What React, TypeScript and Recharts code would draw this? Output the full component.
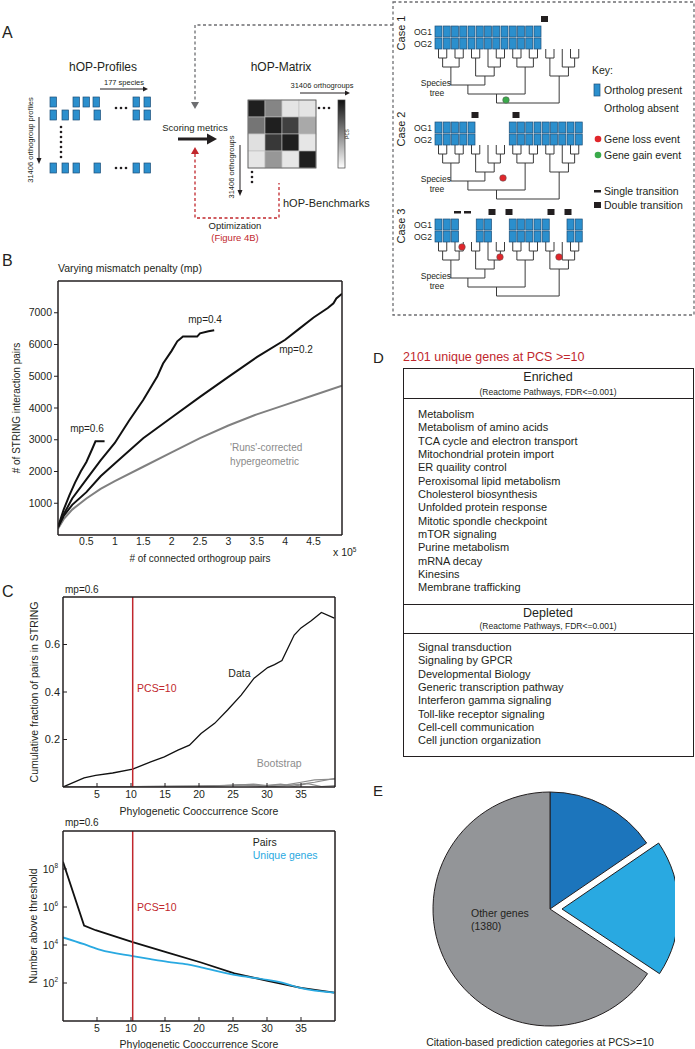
import React from 'react';
import { LineChart, Line, XAxis, YAxis, ReferenceLine, ReferenceDot, Label, PieChart, Pie, Cell } from 'recharts';

const FONT = '"Liberation Sans", Arial, Helvetica, sans-serif';
const INK = '#231f20';
const RED = '#c1272d';
const BLUE = '#2b8fcd';
const CYAN = '#29a9e1';

// ---- panel B: STRING pairs vs connected orthogroup pairs (x in 1e5)
const mp06 = [
  { x: 0, y: 250 }, { x: 0.1, y: 800 }, { x: 0.2, y: 1250 }, { x: 0.3, y: 1650 }, { x: 0.4, y: 2000 },
  { x: 0.5, y: 2300 }, { x: 0.6, y: 2700 }, { x: 0.66, y: 2950 }, { x: 0.82, y: 2950 },
];
const mp04 = [
  { x: 0, y: 250 }, { x: 0.1, y: 650 }, { x: 0.25, y: 1150 }, { x: 0.5, y: 1750 }, { x: 0.75, y: 2350 },
  { x: 1, y: 2900 }, { x: 1.25, y: 3600 }, { x: 1.5, y: 4250 }, { x: 1.75, y: 5000 }, { x: 1.85, y: 5400 },
  { x: 2, y: 5800 }, { x: 2.1, y: 6100 }, { x: 2.2, y: 6250 }, { x: 2.45, y: 6250 }, { x: 2.5, y: 6350 },
  { x: 2.65, y: 6420 }, { x: 2.75, y: 6450 },
];
const mp02 = [
  { x: 0, y: 250 }, { x: 0.1, y: 600 }, { x: 0.25, y: 950 }, { x: 0.5, y: 1350 }, { x: 0.75, y: 1850 },
  { x: 1, y: 2250 }, { x: 1.5, y: 3050 }, { x: 2, y: 3700 }, { x: 2.5, y: 4350 }, { x: 3, y: 4980 },
  { x: 3.5, y: 5600 }, { x: 4, y: 6150 }, { x: 4.25, y: 6500 }, { x: 4.5, y: 6850 }, { x: 4.75, y: 7150 },
  { x: 4.85, y: 7300 }, { x: 4.9, y: 7450 }, { x: 5, y: 7600 },
];
const hyperGeo = [
  { x: 0, y: 200 }, { x: 0.1, y: 500 }, { x: 0.25, y: 800 }, { x: 0.5, y: 1150 }, { x: 0.75, y: 1450 },
  { x: 1, y: 1700 }, { x: 1.5, y: 2150 }, { x: 2, y: 2600 }, { x: 2.5, y: 3050 }, { x: 3, y: 3450 },
  { x: 3.5, y: 3800 }, { x: 4, y: 4100 }, { x: 4.5, y: 4400 }, { x: 5, y: 4700 },
];
const bXTicks = [0.5, 1, 1.5, 2, 2.5, 3, 3.5, 4, 4.5];
const bYTicks = [1000, 2000, 3000, 4000, 5000, 6000, 7000];

// ---- panel C: cumulative fraction and counts vs PCS
const cumData = [
  { x: 0, y: 0 }, { x: 3.1, y: 0.038 }, { x: 4.8, y: 0.049 }, { x: 7.3, y: 0.059 }, { x: 10.25, y: 0.075 },
  { x: 12.9, y: 0.106 }, { x: 14.9, y: 0.127 }, { x: 16.9, y: 0.155 }, { x: 18.6, y: 0.176 }, { x: 20.3, y: 0.225 },
  { x: 22.3, y: 0.268 }, { x: 24.2, y: 0.324 }, { x: 26.2, y: 0.387 }, { x: 28.1, y: 0.458 }, { x: 30.1, y: 0.503 },
  { x: 31.1, y: 0.515 }, { x: 32.2, y: 0.532 }, { x: 34, y: 0.64 }, { x: 35, y: 0.67 }, { x: 36.5, y: 0.7 },
  { x: 38, y: 0.735 }, { x: 39.9, y: 0.711 },
];
const boot1 = [
  { x: 0, y: 0 }, { x: 10, y: 0.002 }, { x: 20, y: 0.005 }, { x: 25, y: 0.007 }, { x: 28, y: 0.012 },
  { x: 30, y: 0.006 }, { x: 33, y: 0.01 }, { x: 35, y: 0.02 }, { x: 37, y: 0.03 }, { x: 40, y: 0.033 },
];
const boot2 = [
  { x: 0, y: 0 }, { x: 20, y: 0.003 }, { x: 26, y: 0.009 }, { x: 29, y: 0.004 }, { x: 32, y: 0.012 },
  { x: 34, y: 0.004 }, { x: 36, y: 0.014 }, { x: 38, y: 0.002 }, { x: 40, y: 0.006 },
];
const boot3 = [
  { x: 0, y: 0 }, { x: 22, y: 0.004 }, { x: 27, y: 0.01 }, { x: 31, y: 0.002 }, { x: 35, y: 0.012 },
  { x: 37, y: 0.02 }, { x: 40, y: 0.036 },
];
const pairsAbove = [
  { x: 0, y: 2.4e8 }, { x: 3.1, y: 1.05e5 }, { x: 4.8, y: 6e4 }, { x: 10.25, y: 1.4e4 }, { x: 15.4, y: 4e3 },
  { x: 20.3, y: 1.2e3 }, { x: 25.2, y: 320 }, { x: 30.1, y: 130 }, { x: 35, y: 55 }, { x: 39.9, y: 31 },
];
const genesAbove = [
  { x: 0, y: 2.5e4 }, { x: 3.1, y: 1.1e4 }, { x: 5.5, y: 5.5e3 }, { x: 10.25, y: 2.6e3 }, { x: 12.9, y: 1.8e3 },
  { x: 15.4, y: 1.3e3 }, { x: 18.3, y: 960 }, { x: 20.3, y: 670 }, { x: 25.2, y: 265 }, { x: 30.1, y: 145 },
  { x: 32.6, y: 96 }, { x: 35, y: 53 }, { x: 39.9, y: 31 },
];
const pcsTicks = [5, 10, 15, 20, 25, 30, 35];
const cumTicks = [0.2, 0.4, 0.6];
const logTicks = [1e2, 1e4, 1e6, 1e8];
const pcsCut = 10.25;

// ---- panel D
const enriched = [
  'Metabolism', 'Metabolism of amino acids', 'TCA cycle and electron transport', 'Mitochondrial protein import',
  'ER quaility control', 'Peroxisomal lipid metabolism', 'Cholesterol biosynthesis', 'Unfolded protein response',
  'Mitotic spondle checkpoint', 'mTOR signaling', 'Purine metabolism', 'mRNA decay', 'Kinesins', 'Membrane trafficking',
];
const depleted = [
  'Signal transduction', 'Signaling by GPCR', 'Developmental Biology', 'Generic transcription pathway',
  'Interferon gamma signaling', 'Toll-like receptor signaling', 'Cell-cell communication', 'Cell junction organization',
];

// ---- panel E
const citeCats = [
  { name: 'dark', value: 325, fill: '#1c75bc' },
  { name: 'light', value: 396, fill: '#29a9e1' },
  { name: 'Other genes', value: 1380, fill: '#939598' },
];

// ---- panel A schematic
type TreeNode = number | TreeNode[];
const speciesTree: TreeNode = [[[[[0, 1], [2, 3]], [[4, 5], [6, [7, 8]]]], [[9, 10], [11, 12]]], [[13, 14], [15, [16, 17]]]];
const leafX = (i: number) => 438.5 + i * 8.25;
const range = (a: number, b: number) => Array.from({ length: b - a + 1 }, (_, i) => a + i);
const cases = [
  { label: 'Case 1', top: 26, present: range(0, 12), singles: [] as number[], doubles: [544.5], dots: [{ x: 506, y: 100, c: '#3aaa4a' }] },
  { label: 'Case 2', top: 122, present: [...range(0, 4), ...range(9, 17)], singles: [], doubles: [475, 516], dots: [{ x: 503, y: 178, c: '#e0262b' }] },
  { label: 'Case 3', top: 219, present: [0, 1, 2, 5, 6, 9, 10, 11, 12, 13, 16, 17], singles: [457.5, 467.5], doubles: [492, 509, 551, 568],
    dots: [{ x: 462, y: 247, c: '#e0262b' }, { x: 500, y: 257, c: '#e0262b' }, { x: 559, y: 257, c: '#e0262b' }] },
];
const matrixShades = [
  ['#1f1f1f', '#858585', '#e4e4e4', '#e4e4e4'],
  ['#757575', '#1f1f1f', '#404040', '#a9a9a9'],
  ['#e0e0e0', '#383838', '#1f1f1f', '#e6e6e6'],
  ['#e6e6e6', '#979797', '#e6e6e6', '#1f1f1f'],
];
const profileRows = [
  { y: 97, xs: [50, 73, 83, 93, 133, 144] },
  { y: 110, xs: [50, 62, 73, 94, 133, 144] },
  { y: 163, xs: [50, 62, 73, 94, 133, 144] },
];

function treeLines(node: TreeNode, top: number, step: number, out: React.ReactNode[]): { x: number; h: number } {
  if (typeof node === 'number') return { x: leafX(node), h: 0 };
  const kids = node.map((n) => treeLines(n, top, step, out));
  const h = 1 + Math.max(...kids.map((k) => k.h));
  const y = top + h * step;
  kids.forEach((k) => out.push(<line key={out.length} x1={k.x} x2={k.x} y1={top + k.h * step} y2={y} />));
  const xs = kids.map((k) => k.x);
  out.push(<line key={out.length} x1={Math.min(...xs)} x2={Math.max(...xs)} y1={y} y2={y} />);
  return { x: (Math.min(...xs) + Math.max(...xs)) / 2, h };
}

const Txt = ({ x, y, size = 10.5, color = INK, anchor = 'start', children, weight = 400 }: any) => (
  <div
    style={{
      position: 'absolute', left: x, top: y, fontSize: size, color, whiteSpace: 'nowrap', lineHeight: 1, fontWeight: weight,
      transform: `translate(${anchor === 'middle' ? '-50%' : anchor === 'end' ? '-100%' : '0'}, -50%)`,
    }}
  >
    {children}
  </div>
);

const Dots = ({ x, y, vertical = false, n = 3, gap = 5 }: any) => (
  <g fill={INK}>
    {range(0, n - 1).map((i) => (
      <circle key={i} cx={vertical ? x : x + i * gap} cy={vertical ? y + i * gap : y} r={1.3} />
    ))}
  </g>
);

function PanelA() {
  const f = { fontFamily: FONT, fill: INK };
  return (
    <svg width={695} height={320} style={{ position: 'absolute', left: 0, top: 0 }}>
      <defs>
        <linearGradient id="pcsbar" x1="0" y1="0" x2="0" y2="1">
          <stop offset="0" stopColor="#111" />
          <stop offset="1" stopColor="#fff" />
        </linearGradient>
      </defs>
      <text x={2} y={38} fontSize={16} {...f}>A</text>
      {/* connectors */}
      <rect x={393} y={2} width={301} height={313} fill="none" stroke="#6d6e71" strokeWidth={1.3} strokeDasharray="3 2.5" />
      <path d="M393 25 H195 V102" fill="none" stroke="#6d6e71" strokeWidth={1.3} strokeDasharray="3 2.5" />
      <polygon points="191,102 199,102 195,109" fill="#6d6e71" />
      <path d="M195 154 V218 H279 V183" fill="none" stroke={RED} strokeWidth={1.3} strokeDasharray="3 2.5" />
      <polygon points="191,154 199,154 195,147" fill={RED} />
      <line x1={178} x2={209} y1={139} y2={139} stroke={INK} strokeWidth={3} />
      <polygon points="207,133.5 217,139 207,144.5" fill={INK} />
      <text x={195} y={131} textAnchor="middle" fontSize={9.5} {...f}>Scoring metrics</text>
      <text x={235} y={229} textAnchor="middle" fontSize={9.5} {...f}>Optimization</text>
      <text x={235} y={241} textAnchor="middle" fontSize={9.5} fontFamily={FONT} fill={RED}>(Figure 4B)</text>

      {/* profiles */}
      <text x={103} y={71} textAnchor="middle" fontSize={12} {...f}>hOP-Profiles</text>
      <text x={124} y={85} textAnchor="middle" fontSize={7.5} {...f}>177 species</text>
      <line x1={100} x2={144} y1={89} y2={89} stroke={INK} strokeWidth={1} />
      <polygon points="143,86.5 148,89 143,91.5" fill={INK} />
      {profileRows.map((r) => r.xs.map((x) => (
        <rect key={`${r.y}-${x}`} x={x} y={r.y} width={6.5} height={10} fill={BLUE} stroke="#1d4f78" strokeWidth={0.7} />
      )))}
      <Dots x={116} y={108} />
      <Dots x={116} y={168} />
      <Dots x={61} y={127} vertical n={7} gap={5} />
      <line x1={39} x2={39} y1={117} y2={159} stroke={INK} strokeWidth={1} />
      <polygon points="36.5,158 39,164 41.5,158" fill={INK} />
      <text transform="translate(33,140) rotate(-90)" textAnchor="middle" fontSize={7.5} {...f}>31406 orthogroup profiles</text>

      {/* matrix */}
      <text x={281} y={71} textAnchor="middle" fontSize={12} {...f}>hOP-Matrix</text>
      <text x={322} y={88} textAnchor="middle" fontSize={7.5} {...f}>31406 orthogroups</text>
      <line x1={300} x2={346} y1={93} y2={93} stroke={INK} strokeWidth={1} />
      <polygon points="345,90.5 350,93 345,95.5" fill={INK} />
      {matrixShades.map((row, r) => row.map((c, k) => (
        <rect key={`${r}-${k}`} x={248 + k * 17} y={100 + r * 17} width={17} height={17} fill={c} stroke="#bdbdbd" strokeWidth={0.6} />
      )))}
      <rect x={248} y={100} width={68} height={68} fill="none" stroke="#555" strokeWidth={0.8} />
      <rect x={338} y={100} width={7} height={68} fill="url(#pcsbar)" stroke="#444" strokeWidth={0.7} />
      <text transform="translate(349,134) rotate(-90)" textAnchor="middle" fontSize={4.5} {...f}>PCS</text>
      <Dots x={319} y={108} n={3} gap={5} />
      <Dots x={252} y={172} vertical n={3} gap={5} />
      <line x1={240} x2={240} y1={145} y2={191} stroke={INK} strokeWidth={1} />
      <polygon points="237.5,190 240,196 242.5,190" fill={INK} />
      <text transform="translate(234,167) rotate(-90)" textAnchor="middle" fontSize={7.5} {...f}>31406 orthogroups</text>
      <text x={283} y={207} fontSize={11} {...f}>hOP-Benchmarks</text>

      {/* cases */}
      {cases.map((c) => {
        const lines: React.ReactNode[] = [];
        const leafTop = c.top + 23;
        treeLines(speciesTree, leafTop, 9, lines);
        return (
          <g key={c.label}>
            <text transform={`translate(405,${c.top + 7}) rotate(-90)`} textAnchor="middle" fontSize={11} {...f}>{c.label}</text>
            <text x={414} y={c.top + 8.5} fontSize={8.5} {...f}>OG1</text>
            <text x={414} y={c.top + 20.5} fontSize={8.5} {...f}>OG2</text>
            <text x={451} y={leafTop + 37} textAnchor="end" fontSize={8.5} {...f}>Species</text>
            <text x={437} y={leafTop + 47} textAnchor="middle" fontSize={8.5} {...f}>tree</text>
            <g stroke="#3b3b3b" strokeWidth={1}>{lines}</g>
            {c.present.map((i) => (
              <g key={i}>
                <rect x={leafX(i) - 3.5} y={c.top} width={7} height={11} fill={BLUE} stroke="#1d4f78" strokeWidth={0.7} />
                <rect x={leafX(i) - 3.5} y={c.top + 12} width={7} height={11} fill={BLUE} stroke="#1d4f78" strokeWidth={0.7} />
              </g>
            ))}
            {c.singles.map((x) => <rect key={`s${x}`} x={x - 3.5} y={c.top - 8} width={7} height={2.5} fill={INK} />)}
            {c.doubles.map((x) => <rect key={`d${x}`} x={x - 3.5} y={c.top - 10} width={7} height={6} fill={INK} />)}
            {c.dots.map((d) => <circle key={`${d.x}`} cx={d.x} cy={d.y} r={3.3} fill={d.c} stroke="#555" strokeWidth={0.5} />)}
          </g>
        );
      })}

      {/* key */}
      <text x={592} y={74} fontSize={10.5} {...f}>Key:</text>
      <rect x={594} y={84} width={6} height={12} fill={BLUE} stroke="#1d4f78" strokeWidth={0.7} />
      <text x={604} y={94} fontSize={10.5} {...f}>Ortholog present</text>
      <text x={604} y={112} fontSize={10.5} {...f}>Ortholog absent</text>
      <circle cx={598} cy={139} r={3.3} fill="#e0262b" />
      <text x={604} y={143} fontSize={10.5} {...f}>Gene loss event</text>
      <circle cx={598} cy={155} r={3.3} fill="#3aaa4a" />
      <text x={604} y={159} fontSize={10.5} {...f}>Gene gain event</text>
      <rect x={594} y={190} width={7} height={2.5} fill={INK} />
      <text x={604} y={195} fontSize={10.5} {...f}>Single transition</text>
      <rect x={594} y={202} width={7} height={6} fill={INK} />
      <text x={604} y={209} fontSize={10.5} {...f}>Double transition</text>
    </svg>
  );
}

const frame = { stroke: INK, strokeWidth: 1.5 };
const tickFont = { fontSize: 10.5, fill: INK, fontFamily: FONT };

const PowTick = (p: any) => {
  const e = Math.round(Math.log10(p.payload.value));
  return (
    <text x={p.x} y={p.y} textAnchor="end" dominantBaseline="central" fontSize={10.5} fill={INK} fontFamily={FONT}>
      10<tspan dy={-4} fontSize={6.5}>{e}</tspan>
    </text>
  );
};

function PanelB() {
  return (
    <div style={{ position: 'absolute', left: 0, top: 270 }}>
      <LineChart width={350} height={300} margin={{ top: 10, right: 7, bottom: 0, left: 0 }}>
        <XAxis xAxisId="b" type="number" dataKey="x" domain={[0, 5]} ticks={bXTicks} allowDataOverflow height={35}
          tickLine={false} tickSize={0} tickMargin={3} axisLine={frame} tick={tickFont}>
          <Label value="# of connected orthogroup pairs" position="insideBottom" offset={8} fontSize={10} fill={INK} />
        </XAxis>
        <XAxis xAxisId="t" orientation="top" type="number" dataKey="x" domain={[0, 5]} height={1} tick={false} tickLine={false} axisLine={frame} />
        <YAxis yAxisId="l" type="number" domain={[0, 8000]} ticks={bYTicks} width={58} allowDataOverflow
          tickLine={{ stroke: INK }} tickSize={4} tickMargin={2} axisLine={frame} tick={tickFont}>
          <Label value="# of STRING interaction pairs" angle={-90} position="insideLeft" offset={16} fontSize={10} fill={INK} style={{ textAnchor: 'middle' }} />
        </YAxis>
        <YAxis yAxisId="r" orientation="right" type="number" domain={[0, 8000]} width={1} tick={false} tickLine={false} axisLine={frame} />
        <Line xAxisId="b" yAxisId="l" data={hyperGeo} dataKey="y" stroke="#808080" strokeWidth={2} dot={false} isAnimationActive={false} />
        <Line xAxisId="b" yAxisId="l" data={mp02} dataKey="y" stroke="#111" strokeWidth={2} dot={false} isAnimationActive={false} />
        <Line xAxisId="b" yAxisId="l" data={mp04} dataKey="y" stroke="#111" strokeWidth={2} dot={false} isAnimationActive={false} />
        <Line xAxisId="b" yAxisId="l" data={mp06} dataKey="y" stroke="#111" strokeWidth={2} dot={false} isAnimationActive={false} />
        <ReferenceDot xAxisId="b" yAxisId="l" x={0.51} y={3370} r={0} fill="none" stroke="none" label={{ value: 'mp=0.6', position: 'center', fontSize: 10, fill: INK }} />
        <ReferenceDot xAxisId="b" yAxisId="l" x={2.59} y={6800} r={0} fill="none" stroke="none" label={{ value: 'mp=0.4', position: 'center', fontSize: 10, fill: INK }} />
        <ReferenceDot xAxisId="b" yAxisId="l" x={4.19} y={5830} r={0} fill="none" stroke="none" label={{ value: 'mp=0.2', position: 'center', fontSize: 10, fill: INK }} />
        <ReferenceDot xAxisId="b" yAxisId="l" x={3.03} y={2750} r={0} fill="none" stroke="none" label={{ value: "'Runs'-corrected", position: 'right', offset: 0, fontSize: 10, fill: '#8a8a8a' }} />
        <ReferenceDot xAxisId="b" yAxisId="l" x={3.03} y={2310} r={0} fill="none" stroke="none" label={{ value: 'hypergeometric', position: 'right', offset: 0, fontSize: 10, fill: '#8a8a8a' }} />
      </LineChart>
    </div>
  );
}

function PanelCTop() {
  return (
    <div style={{ position: 'absolute', left: 0, top: 585 }}>
      <LineChart width={340} height={232} margin={{ top: 11, right: 4, bottom: 0, left: 0 }}>
        <XAxis xAxisId="b" type="number" dataKey="x" domain={[0, 40]} ticks={pcsTicks} allowDataOverflow height={30}
          tickSize={-4} tickMargin={8} tickLine={{ stroke: INK }} axisLine={frame} tick={tickFont}>
          <Label value="Phylogenetic Cooccurrence Score" position="insideBottom" offset={2} fontSize={10.5} fill={INK} />
        </XAxis>
        <XAxis xAxisId="t" orientation="top" type="number" dataKey="x" domain={[0, 40]} ticks={pcsTicks} height={1}
          tick={false} tickSize={-4} tickLine={{ stroke: INK }} axisLine={frame} />
        <YAxis yAxisId="l" type="number" domain={[0, 0.8]} ticks={cumTicks} width={63} allowDataOverflow
          tickSize={-4} tickMargin={7} tickLine={{ stroke: INK }} axisLine={frame} tick={{ ...tickFont, fontSize: 11 }}>
          <Label value="Cumulative fraction of pairs in STRING" angle={-90} position="insideLeft" offset={34} fontSize={10.5} fill={INK} style={{ textAnchor: 'middle' }} />
        </YAxis>
        <YAxis yAxisId="r" orientation="right" type="number" domain={[0, 0.8]} ticks={cumTicks} width={1}
          tick={false} tickSize={-4} tickLine={{ stroke: INK }} axisLine={frame} />
        <Line xAxisId="b" yAxisId="l" data={boot1} dataKey="y" stroke="#8c8c8c" strokeWidth={1.2} dot={false} isAnimationActive={false} />
        <Line xAxisId="b" yAxisId="l" data={boot2} dataKey="y" stroke="#8c8c8c" strokeWidth={1.2} dot={false} isAnimationActive={false} />
        <Line xAxisId="b" yAxisId="l" data={boot3} dataKey="y" stroke="#8c8c8c" strokeWidth={1.2} dot={false} isAnimationActive={false} />
        <Line xAxisId="b" yAxisId="l" data={cumData} dataKey="y" stroke="#111" strokeWidth={1.3} dot={false} isAnimationActive={false} />
        <ReferenceLine xAxisId="b" yAxisId="l" x={pcsCut} stroke={RED} strokeWidth={1.5} />
        <ReferenceDot xAxisId="b" yAxisId="l" x={25.95} y={0.48} r={0} fill="none" stroke="none" label={{ value: 'Data', position: 'center', fontSize: 10.5, fill: INK }} />
        <ReferenceDot xAxisId="b" yAxisId="l" x={10.9} y={0.416} r={0} fill="none" stroke="none" label={{ value: 'PCS=10', position: 'right', offset: 0, fontSize: 10.5, fill: RED }} />
        <ReferenceDot xAxisId="b" yAxisId="l" x={31.8} y={0.099} r={0} fill="none" stroke="none" label={{ value: 'Bootstrap', position: 'center', fontSize: 10.5, fill: '#8c8c8c' }} />
      </LineChart>
    </div>
  );
}

function PanelCBottom() {
  return (
    <div style={{ position: 'absolute', left: 0, top: 820 }}>
      <LineChart width={340} height={229} margin={{ top: 10, right: 4, bottom: 0, left: 0 }}>
        <XAxis xAxisId="b" type="number" dataKey="x" domain={[0, 40]} ticks={pcsTicks} allowDataOverflow height={28}
          tickSize={-4} tickMargin={8} tickLine={{ stroke: INK }} axisLine={frame} tick={tickFont}>
          <Label value="Phylogenetic Cooccurrence Score" position="insideBottom" offset={1} fontSize={10.5} fill={INK} />
        </XAxis>
        <XAxis xAxisId="t" orientation="top" type="number" dataKey="x" domain={[0, 40]} ticks={pcsTicks} height={1}
          tick={false} tickSize={-4} tickLine={{ stroke: INK }} axisLine={frame} />
        <YAxis yAxisId="l" type="number" scale="log" domain={[1, 1e10]} ticks={logTicks} width={63} allowDataOverflow
          tickSize={-4} tickMargin={9} tickLine={{ stroke: INK }} axisLine={frame} tick={<PowTick />}>
          <Label value="Number above threshold" angle={-90} position="insideLeft" offset={33} fontSize={10.5} fill={INK} style={{ textAnchor: 'middle' }} />
        </YAxis>
        <YAxis yAxisId="r" orientation="right" type="number" scale="log" domain={[1, 1e10]} ticks={logTicks} width={1}
          tick={false} tickSize={-4} tickLine={{ stroke: INK }} axisLine={frame} />
        <Line xAxisId="b" yAxisId="l" data={pairsAbove} dataKey="y" stroke="#111" strokeWidth={1.8} dot={false} isAnimationActive={false} />
        <Line xAxisId="b" yAxisId="l" data={genesAbove} dataKey="y" type="monotone" stroke={CYAN} strokeWidth={1.8} dot={false} isAnimationActive={false} />
        <ReferenceLine xAxisId="b" yAxisId="l" x={pcsCut} stroke={RED} strokeWidth={1.5} />
        <ReferenceDot xAxisId="b" yAxisId="l" x={10.9} y={1e6} r={0} fill="none" stroke="none" label={{ value: 'PCS=10', position: 'right', offset: 0, fontSize: 10.5, fill: RED }} />
        <ReferenceDot xAxisId="b" yAxisId="l" x={27.9} y={2.5e9} r={0} fill="none" stroke="none" label={{ value: 'Pairs', position: 'right', offset: 0, fontSize: 10.5, fill: INK }} />
        <ReferenceDot xAxisId="b" yAxisId="l" x={27.9} y={5e8} r={0} fill="none" stroke="none" label={{ value: 'Unique genes', position: 'right', offset: 0, fontSize: 10.5, fill: CYAN }} />
      </LineChart>
    </div>
  );
}

function PanelD() {
  const rule = (top: number) => <div style={{ position: 'absolute', left: 0, right: 0, top, borderTop: `1.5px solid ${INK}` }} />;
  return (
    <>
      <Txt x={373} y={357} size={15}>D</Txt>
      <Txt x={403} y={357} size={12.5} color={RED}>2101 unique genes at PCS &gt;=10</Txt>
      <div style={{ position: 'absolute', left: 403, top: 368, width: 291, height: 389, border: `1.5px solid ${INK}`, boxSizing: 'border-box' }}>
        <Txt x={144} y={8} size={12.5} anchor="middle">Enriched</Txt>
        <Txt x={144} y={23} size={8.5} anchor="middle">(Reactome Pathways, FDR&lt;=0.001)</Txt>
        {rule(29)}
        {enriched.map((t, i) => <Txt key={t} x={14} y={45 + i * 13.33} size={11}>{t}</Txt>)}
        {rule(235)}
        <Txt x={144} y={244} size={12.5} anchor="middle">Depleted</Txt>
        <Txt x={144} y={257} size={8.5} anchor="middle">(Reactome Pathways, FDR&lt;=0.001)</Txt>
        {rule(264)}
        {depleted.map((t, i) => <Txt key={t} x={14} y={278 + i * 13.33} size={11}>{t}</Txt>)}
      </div>
    </>
  );
}

function PanelE() {
  return (
    <>
      <Txt x={373} y={790} size={15}>E</Txt>
      <div style={{ position: 'absolute', left: 415, top: 779 }}>
        <PieChart width={260} height={250}>
          <Pie data={citeCats} dataKey="value" cx={130} cy={125} outerRadius={117} startAngle={90} endAngle={-270}
            stroke={INK} strokeWidth={1} isAnimationActive={false}>
            {citeCats.map((d) => (
              <Cell key={d.name} fill={d.name === 'light' ? 'none' : d.fill} stroke={d.name === 'light' ? 'none' : INK} />
            ))}
          </Pie>
          <Pie data={citeCats} dataKey="value" cx={142} cy={125} outerRadius={117} startAngle={90} endAngle={-270}
            stroke={INK} strokeWidth={1} isAnimationActive={false}>
            {citeCats.map((d) => (
              <Cell key={d.name} fill={d.name === 'light' ? d.fill : 'none'} stroke={d.name === 'light' ? INK : 'none'} />
            ))}
          </Pie>
        </PieChart>
      </div>
      <Txt x={471} y={913} size={10.5}>Other genes</Txt>
      <Txt x={471} y={926} size={10.5}>(1380)</Txt>
      <Txt x={540} y={1042} size={10.5} anchor="middle">Citation-based prediction categories at PCS&gt;=10</Txt>
    </>
  );
}

export default function App() {
  return (
    <div style={{ position: 'absolute', left: 0, top: 0, width: 695, height: 1049, overflow: 'hidden', background: '#fff', fontFamily: FONT, color: INK }}>
      <PanelA />
      <Txt x={2} y={261} size={16}>B</Txt>
      <Txt x={58} y={268} size={10.5}>Varying mismatch penalty (mp)</Txt>
      <PanelB />
      <Txt x={333} y={552} size={10.5}>x 10<sup style={{ fontSize: 6.5 }}>5</sup></Txt>
      <Txt x={2} y={592} size={16}>C</Txt>
      <Txt x={65} y={590} size={10}>mp=0.6</Txt>
      <PanelCTop />
      <Txt x={65} y={823} size={10}>mp=0.6</Txt>
      <PanelCBottom />
      <PanelD />
      <PanelE />
    </div>
  );
}
